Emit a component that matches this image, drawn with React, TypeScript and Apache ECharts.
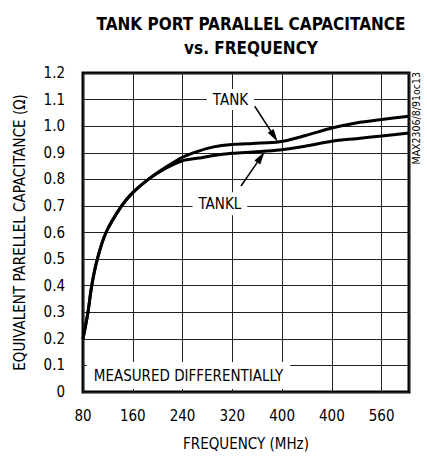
import React, { useEffect, useRef } from 'react';
import * as echarts from 'echarts';

const FONT = '"DejaVu Sans Condensed", "Liberation Sans", sans-serif';

const titleLines = ['TANK PORT PARALLEL CAPACITANCE', 'vs. FREQUENCY'];
const yAxisName = 'EQUIVALENT PARELLEL CAPACITANCE (Ω)';
const xAxisName = 'FREQUENCY (MHz)';
const sideNote = 'MAX2306/8/91oc13';

const xTicks = [80, 160, 240, 320, 400, 480, 560];
const xTickLabels = ['80', '160', '240', '320', '400', '400', '560'];
const yTicks = [0, 0.1, 0.2, 0.3, 0.4, 0.5, 0.6, 0.7, 0.8, 0.9, 1.0, 1.1, 1.2];
const yTickLabels = ['0', '0.1', '0.2', '0.3', '0.4', '0.5', '0.6', '0.7', '0.8', '0.9', '1.0', '1.1', '1.2'];

const tankFreq = [80, 88, 94, 103, 117, 142, 160, 185, 214, 240, 267, 290, 320, 353, 396, 438, 480, 519, 560, 604];
const tankVals = [0.2, 0.3, 0.4, 0.5, 0.6, 0.7, 0.75, 0.8, 0.847, 0.883, 0.907, 0.922, 0.931, 0.935, 0.941, 0.965, 0.993, 1.012, 1.025, 1.037];
const tanklFreq = [80, 88, 94, 103, 117, 142, 160, 185, 214, 240, 267, 290, 320, 353, 396, 438, 480, 519, 560, 604];
const tanklVals = [0.2, 0.3, 0.4, 0.5, 0.6, 0.7, 0.75, 0.8, 0.843, 0.870, 0.880, 0.890, 0.898, 0.903, 0.910, 0.925, 0.943, 0.953, 0.963, 0.974];

// annotations, in data coordinates
const tankLabel = { text: 'TANK', at: [317, 1.1], from: [356, 1.075], to: [393, 0.941] };
const tanklLabel = { text: 'TANKL', at: [300, 0.708], from: [334, 0.775], to: [372, 0.904] };
const noteLabel = { text: 'MEASURED DIFFERENTIALLY', at: [86, 0.062] };

const X_MIN = 80;
const X_MAX = 604;

export default function App() {
  const ref = useRef<HTMLDivElement>(null);
  useEffect(() => {
    if (!ref.current) return;
    const chart = echarts.init(ref.current, null, { renderer: 'svg' });
    const option: any = {
      animation: false,
      backgroundColor: '#fff',
      textStyle: { fontFamily: FONT },
      title: {
        text: titleLines.join('\n'),
        left: 246,
        top: 7,
        textAlign: 'center',
        textStyle: { fontFamily: FONT, fontWeight: 'bold', fontSize: 17, lineHeight: 24, color: '#000' },
      },
      grid: {
        left: 83,
        right: 18,
        top: 73,
        bottom: 57,
        show: true,
        borderColor: '#000',
        borderWidth: 3,
        backgroundColor: 'transparent',
      },
      xAxis: {
        type: 'value',
        min: X_MIN,
        max: X_MAX,
        interval: 80,
        name: xAxisName,
        nameLocation: 'middle',
        nameGap: 44,
        nameTextStyle: { fontFamily: FONT, fontSize: 15, color: '#000' },
        axisLine: { show: false },
        axisTick: { show: false },
        axisLabel: {
          margin: 16,
          fontFamily: FONT,
          fontSize: 15,
          color: '#000',
          formatter: (v: number) => {
            const i = xTicks.indexOf(v);
            return i >= 0 ? xTickLabels[i] : '';
          },
        },
        splitLine: { show: true, lineStyle: { color: '#222', width: 1 } },
      },
      yAxis: {
        type: 'value',
        min: 0,
        max: 1.2,
        interval: 0.1,
        name: yAxisName,
        nameLocation: 'middle',
        nameGap: 56,
        nameTextStyle: { fontFamily: FONT, fontSize: 15, color: '#000' },
        axisLine: { show: false },
        axisTick: { show: false },
        axisLabel: {
          margin: 18,
          fontFamily: FONT,
          fontSize: 15,
          color: '#000',
          formatter: (v: number) => {
            const i = yTicks.findIndex((t) => Math.abs(t - v) < 1e-6);
            return i >= 0 ? yTickLabels[i] : '';
          },
        },
        splitLine: { show: true, lineStyle: { color: '#222', width: 1 } },
      },
      series: [
        {
          name: 'TANK',
          type: 'line',
          data: tankFreq.map((f, i) => [f, tankVals[i]]),
          smooth: 0.3,
          symbol: 'none',
          lineStyle: { color: '#000', width: 3 },
          z: 3,
        },
        {
          name: 'TANKL',
          type: 'line',
          data: tanklFreq.map((f, i) => [f, tanklVals[i]]),
          smooth: 0.3,
          symbol: 'none',
          lineStyle: { color: '#000', width: 3 },
          z: 3,
        },
      ],
    };
    chart.setOption(option);

    const px = (p: number[]) => chart.convertToPixel({ gridIndex: 0 }, p) as number[];
    const font15 = `15px ${FONT}`;

    const labelGraphic = (lab: { text: string; at: number[] }, padX: number, padY: number) => {
      const c = px(lab.at);
      return [
        {
          type: 'text',
          x: c[0],
          y: c[1],
          z: 50,
          style: {
            text: lab.text,
            font: font15,
            fill: '#000',
            align: 'center',
            verticalAlign: 'middle',
            backgroundColor: '#fff',
            padding: [padY, padX, padY, padX],
          },
        },
      ];
    };

    const arrow = (from: number[], to: number[]) => {
      const a = px(from);
      const b = px(to);
      const dx = b[0] - a[0];
      const dy = b[1] - a[1];
      const len = Math.sqrt(dx * dx + dy * dy);
      const ux = dx / len;
      const uy = dy / len;
      const headLen = 13;
      const headW = 3.5;
      const bx = b[0] - ux * headLen;
      const by = b[1] - uy * headLen;
      return [
        {
          type: 'line',
          z: 50,
          shape: { x1: a[0], y1: a[1], x2: bx, y2: by },
          style: { stroke: '#000', lineWidth: 1.5 },
        },
        {
          type: 'polygon',
          z: 50,
          shape: {
            points: [
              [b[0], b[1]],
              [bx - uy * headW, by + ux * headW],
              [bx + uy * headW, by - ux * headW],
            ],
          },
          style: { fill: '#000' },
        },
      ];
    };

    const noteP = px(noteLabel.at);
    const rightTop = px([X_MAX, 1.2]);

    chart.setOption({
      graphic: [
        ...labelGraphic(tankLabel, 6, 3),
        ...arrow(tankLabel.from, tankLabel.to),
        ...labelGraphic(tanklLabel, 6, 4),
        ...arrow(tanklLabel.from, tanklLabel.to),
        {
          type: 'text',
          x: noteP[0],
          y: noteP[1],
          z: 50,
          style: {
            text: noteLabel.text,
            font: font15,
            fill: '#000',
            align: 'left',
            verticalAlign: 'middle',
            backgroundColor: '#fff',
            padding: [6, 7, 6, 7],
          },
        },
        {
          type: 'text',
          x: rightTop[0] + 7,
          y: rightTop[1] - 1,
          rotation: Math.PI / 2,
          z: 50,
          style: {
            text: sideNote,
            font: `10.5px ${FONT}`,
            fill: '#000',
            align: 'right',
            verticalAlign: 'middle',
          },
        },
      ],
    });

    return () => chart.dispose();
  }, []);
  return <div ref={ref} style={{ position: 'fixed', left: 0, top: 0, width: 427, height: 456 }} />;
}
